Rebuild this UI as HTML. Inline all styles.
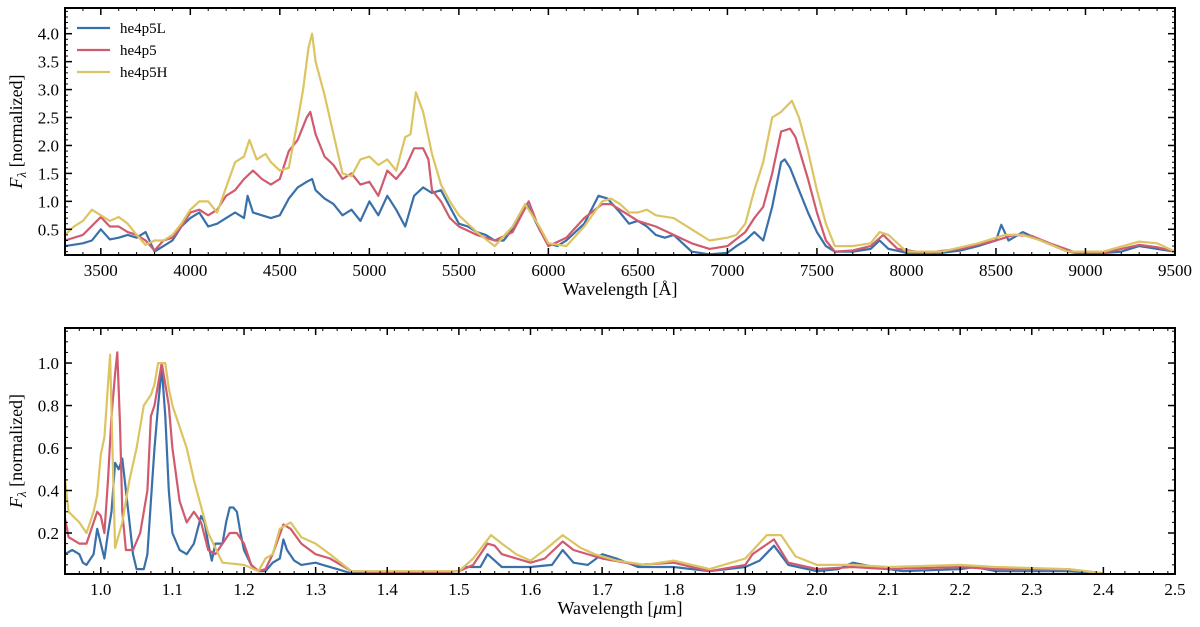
<!DOCTYPE html>
<html><head><meta charset="utf-8"><style>
html,body{margin:0;padding:0;background:#fff;}
svg{display:block;font-family:"Liberation Serif",serif;}
</style></head><body>
<svg id="chart" width="1200" height="627" viewBox="0 0 1200 627"></svg>
<script>
// ---- Top panel data (wavelength Å, normalized flux) ----
const topLWave=[3300,3400,3450,3500,3550,3600,3650,3700,3750,3800,3850,3900,3950,4000,4050,4100,4150,4200,4250,4300,4320,4350,4400,4450,4500,4550,4600,4650,4680,4700,4750,4800,4850,4900,4950,5000,5050,5100,5150,5200,5250,5300,5350,5400,5450,5500,5550,5600,5650,5700,5750,5800,5880,5950,6000,6050,6100,6200,6280,6330,6400,6450,6500,6550,6600,6650,6700,6750,6800,6900,7000,7050,7100,7150,7200,7250,7300,7320,7350,7400,7450,7500,7550,7600,7700,7800,7850,7900,8000,8200,8300,8400,8500,8530,8570,8650,8750,8900,9000,9200,9300,9400,9500];
const topLFlux=[0.2,0.25,0.3,0.5,0.32,0.35,0.4,0.35,0.45,0.1,0.2,0.3,0.55,0.7,0.8,0.55,0.6,0.7,0.8,0.7,1.1,0.8,0.75,0.7,0.75,1.05,1.25,1.35,1.4,1.2,1.05,0.95,0.75,0.85,0.65,1.0,0.75,1.1,0.85,0.55,1.1,1.25,1.15,1.2,0.9,0.6,0.55,0.45,0.4,0.3,0.3,0.5,0.95,0.5,0.25,0.2,0.3,0.6,1.1,1.05,0.8,0.6,0.65,0.55,0.4,0.35,0.4,0.25,0.1,0.05,0.08,0.2,0.3,0.45,0.3,0.9,1.7,1.75,1.6,1.2,0.8,0.45,0.2,0.1,0.1,0.15,0.3,0.15,0.08,0.08,0.12,0.2,0.3,0.58,0.3,0.45,0.3,0.1,0.05,0.1,0.2,0.15,0.1];
const topMWave=[3300,3400,3500,3550,3600,3650,3700,3750,3800,3850,3900,3950,4000,4050,4100,4150,4200,4250,4300,4350,4400,4450,4500,4550,4600,4650,4670,4700,4750,4800,4850,4900,4950,5000,5050,5100,5150,5200,5250,5300,5330,5350,5400,5450,5500,5600,5700,5800,5890,5950,6000,6100,6200,6300,6350,6400,6500,6600,6700,6800,6900,7000,7100,7150,7200,7250,7300,7350,7380,7450,7500,7550,7600,7700,7800,7870,7950,8100,8300,8500,8600,8700,8800,8950,9100,9300,9400,9500];
const topMFlux=[0.3,0.4,0.72,0.55,0.55,0.45,0.4,0.3,0.12,0.3,0.35,0.55,0.8,0.85,0.75,0.85,1.1,1.2,1.4,1.55,1.4,1.3,1.4,1.9,2.1,2.5,2.6,2.2,1.8,1.65,1.4,1.5,1.3,1.35,1.1,1.55,1.4,1.6,1.95,1.95,1.75,1.2,1.0,0.7,0.55,0.4,0.3,0.45,1.0,0.5,0.2,0.35,0.7,0.95,0.95,0.85,0.65,0.55,0.4,0.25,0.15,0.2,0.45,0.7,0.9,1.5,2.25,2.3,2.15,1.4,0.8,0.3,0.1,0.12,0.2,0.4,0.15,0.08,0.15,0.3,0.4,0.38,0.25,0.08,0.08,0.22,0.18,0.1];
const topHWave=[3300,3350,3400,3450,3500,3550,3600,3650,3700,3750,3800,3850,3900,3950,4000,4050,4100,4150,4200,4250,4300,4330,4370,4420,4450,4500,4550,4600,4630,4660,4680,4700,4750,4800,4850,4900,4950,5000,5050,5100,5150,5200,5230,5260,5300,5350,5400,5450,5500,5600,5700,5800,5870,5950,6000,6100,6200,6300,6350,6400,6450,6500,6550,6600,6700,6800,6900,7000,7050,7100,7150,7200,7250,7300,7360,7400,7450,7500,7550,7600,7700,7800,7850,7900,8000,8200,8400,8550,8650,8750,8900,9100,9300,9400,9500];
const topHFlux=[0.4,0.55,0.65,0.85,0.75,0.65,0.72,0.6,0.4,0.22,0.3,0.3,0.4,0.6,0.85,1.0,1.0,0.8,1.25,1.7,1.8,2.1,1.75,1.85,1.7,1.55,1.6,2.45,3.0,3.75,4.0,3.5,2.9,2.2,1.5,1.45,1.75,1.8,1.65,1.75,1.55,2.15,2.2,2.95,2.6,1.85,1.3,1.0,0.75,0.45,0.2,0.55,0.95,0.55,0.25,0.2,0.55,1.0,1.05,0.95,0.8,0.8,0.85,0.75,0.7,0.5,0.3,0.35,0.4,0.6,1.2,1.7,2.5,2.6,2.8,2.5,1.9,1.2,0.6,0.2,0.2,0.25,0.45,0.4,0.1,0.1,0.25,0.4,0.4,0.3,0.1,0.1,0.28,0.25,0.1];
const topXTicks=[3500,4000,4500,5000,5500,6000,6500,7000,7500,8000,8500,9000,9500];
const topYTicks=[0.5,1.0,1.5,2.0,2.5,3.0,3.5,4.0];

// ---- Bottom panel data (wavelength μm, normalized flux) ----
const botLWave=[0.95,0.96,0.97,0.975,0.98,0.99,0.995,1.0,1.005,1.01,1.015,1.02,1.025,1.03,1.035,1.04,1.045,1.05,1.06,1.065,1.07,1.075,1.08,1.085,1.09,1.095,1.1,1.11,1.12,1.13,1.14,1.145,1.15,1.155,1.16,1.17,1.175,1.18,1.185,1.19,1.195,1.2,1.21,1.22,1.23,1.24,1.25,1.255,1.26,1.27,1.28,1.3,1.31,1.33,1.35,1.45,1.5,1.51,1.53,1.54,1.55,1.56,1.6,1.63,1.645,1.66,1.68,1.7,1.72,1.75,1.8,1.85,1.9,1.92,1.94,1.96,2.0,2.03,2.05,2.08,2.12,2.2,2.22,2.25,2.35,2.4];
const botLFlux=[0.1,0.12,0.1,0.06,0.05,0.1,0.22,0.15,0.08,0.2,0.3,0.53,0.5,0.55,0.4,0.25,0.1,0.03,0.03,0.1,0.35,0.6,0.8,0.98,0.75,0.4,0.2,0.12,0.1,0.15,0.28,0.25,0.15,0.07,0.15,0.15,0.25,0.32,0.32,0.3,0.2,0.12,0.05,0.02,0.02,0.06,0.08,0.17,0.12,0.07,0.05,0.06,0.05,0.03,0.01,0.01,0.02,0.04,0.04,0.1,0.07,0.04,0.04,0.05,0.12,0.06,0.05,0.1,0.08,0.04,0.04,0.02,0.04,0.07,0.14,0.05,0.02,0.03,0.06,0.04,0.02,0.03,0.04,0.02,0.02,0.01];
const botMWave=[0.95,0.955,0.97,0.98,0.99,0.995,1.0,1.005,1.01,1.015,1.02,1.023,1.027,1.03,1.035,1.045,1.055,1.065,1.07,1.075,1.08,1.085,1.09,1.095,1.1,1.11,1.12,1.13,1.14,1.15,1.16,1.17,1.18,1.19,1.2,1.21,1.22,1.23,1.24,1.255,1.265,1.28,1.3,1.32,1.35,1.45,1.5,1.52,1.54,1.55,1.56,1.6,1.62,1.645,1.66,1.7,1.75,1.8,1.85,1.9,1.91,1.94,1.96,2.0,2.05,2.1,2.2,2.25,2.35,2.4];
const botMFlux=[0.27,0.18,0.15,0.15,0.25,0.3,0.28,0.2,0.45,0.75,0.95,1.05,0.7,0.3,0.12,0.12,0.2,0.4,0.75,0.8,0.9,1.0,0.9,0.8,0.6,0.35,0.25,0.3,0.25,0.12,0.1,0.15,0.2,0.2,0.15,0.05,0.02,0.03,0.1,0.24,0.22,0.15,0.1,0.08,0.02,0.01,0.02,0.05,0.15,0.14,0.1,0.06,0.08,0.16,0.12,0.08,0.05,0.06,0.02,0.05,0.1,0.17,0.06,0.03,0.04,0.03,0.04,0.03,0.03,0.01];
const botHWave=[0.95,0.955,0.97,0.98,0.99,0.995,1.0,1.005,1.01,1.013,1.017,1.02,1.03,1.04,1.05,1.06,1.07,1.075,1.08,1.09,1.095,1.1,1.12,1.13,1.15,1.17,1.2,1.22,1.23,1.24,1.25,1.265,1.28,1.3,1.32,1.35,1.5,1.52,1.545,1.56,1.58,1.6,1.62,1.645,1.67,1.69,1.72,1.76,1.8,1.85,1.9,1.93,1.95,1.97,2.0,2.05,2.1,2.2,2.25,2.35,2.4];
const botHFlux=[0.45,0.3,0.25,0.2,0.3,0.38,0.57,0.65,0.9,1.04,0.5,0.13,0.25,0.45,0.6,0.8,0.85,0.9,1.0,1.0,0.88,0.8,0.6,0.45,0.2,0.06,0.05,0.02,0.08,0.1,0.22,0.25,0.18,0.15,0.1,0.02,0.02,0.08,0.19,0.15,0.1,0.07,0.12,0.19,0.13,0.1,0.07,0.05,0.07,0.03,0.08,0.19,0.19,0.09,0.05,0.05,0.04,0.05,0.04,0.03,0.01];
const botXTicks=[1.0,1.1,1.2,1.3,1.4,1.5,1.6,1.7,1.8,1.9,2.0,2.1,2.2,2.3,2.4,2.5];
const botYTicks=[0.2,0.4,0.6,0.8,1.0];

const legendNames=["he4p5L","he4p5","he4p5H"];
const COLORS=["#3a70aa","#d05a6e","#dcc463"];
const NS="http://www.w3.org/2000/svg";
const svg=document.getElementById('chart');
function mk(tag,attrs,parent){const e=document.createElementNS(NS,tag);for(const k in attrs)e.setAttribute(k,attrs[k]);(parent||svg).appendChild(e);return e;}

function panel(cfg){
  const g=mk('g',{});
  
  
  const L=65,R=1175,T=cfg.top,B=cfg.bottom;
  const xs=v=>L+(v-cfg.x0)/(cfg.x1-cfg.x0)*(R-L);
  const ys=v=>B-(v-cfg.y0)/(cfg.y1-cfg.y0)*(B-T);
  const clip='clip-'+cfg.name;
  const cp=mk('clipPath',{id:clip},g);mk('rect',{x:L,y:T,width:R-L,height:B-T},cp);
  cfg.series.forEach((s,i)=>{
    const d=s.w.map((w,j)=>(j?'L':'M')+xs(w).toFixed(1)+','+ys(s.f[j]).toFixed(1)).join('');
    const p=mk('path',{d:d,fill:'none',stroke:COLORS[i],'stroke-width':2.2,'stroke-linejoin':'round','clip-path':'url(#'+clip+')'},g);
    
    
  });
  for(let v=cfg.x0;v<=cfg.x1+1e-9;v+=cfg.xminor){const x=xs(v);mk('line',{x1:x,x2:x,y1:B,y2:B-3,stroke:'#000','stroke-width':1},g);mk('line',{x1:x,x2:x,y1:T,y2:T+3,stroke:'#000','stroke-width':1},g);}
  for(let v=Math.ceil(cfg.y0/cfg.yminor)*cfg.yminor;v<=cfg.y1;v+=cfg.yminor){const y=ys(v);mk('line',{x1:L,x2:L+3,y1:y,y2:y,stroke:'#000','stroke-width':1},g);mk('line',{x1:R,x2:R-3,y1:y,y2:y,stroke:'#000','stroke-width':1},g);}
  cfg.xticks.forEach(v=>{const x=xs(v);
    mk('line',{x1:x,x2:x,y1:B,y2:B-7,stroke:'#000','stroke-width':1.5},g);mk('line',{x1:x,x2:x,y1:T,y2:T+7,stroke:'#000','stroke-width':1.5},g);
    const t=mk('text',{x:x,y:B+21,'text-anchor':'middle','font-size':17},g);t.textContent=cfg.xfmt(v);
    
    
  });
  cfg.yticks.forEach(v=>{const y=ys(v);
    mk('line',{x1:L,x2:L+7,y1:y,y2:y,stroke:'#000','stroke-width':1.5},g);mk('line',{x1:R,x2:R-7,y1:y,y2:y,stroke:'#000','stroke-width':1.5},g);
    const t=mk('text',{x:L-6,y:y+6,'text-anchor':'end','font-size':17},g);t.textContent=v.toFixed(1);
    
    
  });
  const fr=mk('rect',{x:L,y:T,width:R-L,height:B-T,fill:'none',stroke:'#000','stroke-width':2},g);
  
  
  const xl=mk('text',{x:(L+R)/2,y:B+40,'text-anchor':'middle','font-size':18},g);
  xl.innerHTML=cfg.xlabel;
  
  
  const yl=mk('text',{x:0,y:0,'text-anchor':'middle','font-size':18,transform:'translate(22,'+((T+B)/2)+') rotate(-90)'},g);
  yl.innerHTML='<tspan font-style="italic">F</tspan><tspan font-style="italic" font-size="13" dy="4">λ</tspan><tspan dy="-4"> [normalized]</tspan>';
  
  
  return g;
}

panel({name:'optical-panel',top:8,bottom:255,x0:3300,x1:9500,y0:0.04,y1:4.46,xminor:100,yminor:0.1,
  xticks:topXTicks,yticks:topYTicks,xfmt:v=>String(v),xlabel:'Wavelength [Å]',
  series:[{w:topLWave,f:topLFlux},{w:topMWave,f:topMFlux},{w:topHWave,f:topHFlux}]});
panel({name:'nir-panel',top:328,bottom:574,x0:0.95,x1:2.5,y0:0.007,y1:1.165,xminor:0.02,yminor:0.05,
  xticks:botXTicks,yticks:botYTicks,xfmt:v=>v.toFixed(1),xlabel:'Wavelength [<tspan font-style="italic">μ</tspan>m]',
  series:[{w:botLWave,f:botLFlux},{w:botMWave,f:botMFlux},{w:botHWave,f:botHFlux}]});

const lg=mk('g',{});


legendNames.forEach((n,i)=>{
  const y=28+i*22;
  mk('line',{x1:77,x2:110,y1:y,y2:y,stroke:COLORS[i],'stroke-width':2.2},lg);
  const t=mk('text',{x:120,y:y+5,'font-size':15},lg);t.textContent=n;
  
  
});
</script>
</body></html>
